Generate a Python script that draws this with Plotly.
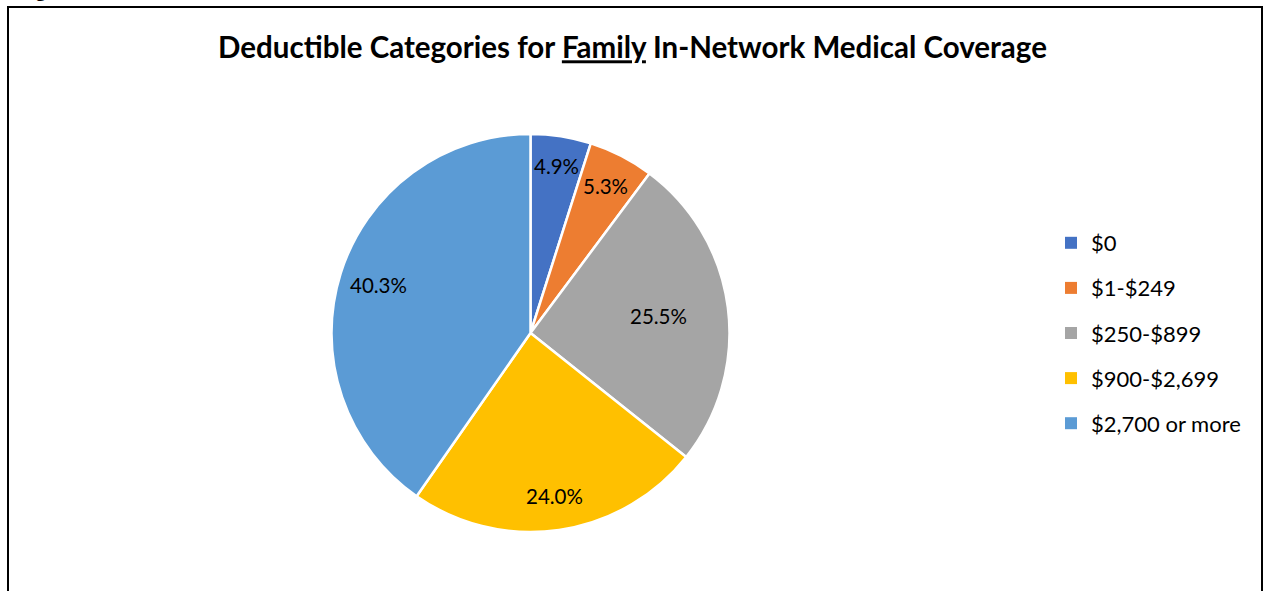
import math
import plotly.graph_objects as go

# ---- data ----
categories = ["$0", "$1-$249", "$250-$899", "$900-$2,699", "$2,700 or more"]
shares = [4.9, 5.3, 25.5, 24.0, 40.3]
title_text = "Deductible Categories for <u>Family</u> In-Network Medical Coverage"

# ---- style ----
colors = ["#4472C4", "#ED7D31", "#A5A5A5", "#FFC000", "#5B9BD5"]
label_radius_frac = [0.85, 0.83, 0.65, 0.83, 0.80]
W, H = 1265, 591
FONT = "Lato"

# pie geometry (pixels)
cx_px, cy_px, r_px = 530.5, 333.0, 199.0
dom_x = [(cx_px - r_px) / W, (cx_px + r_px) / W]
dom_y = [1 - (cy_px + r_px) / H, 1 - (cy_px - r_px) / H]

fig = go.Figure()
fig.add_trace(go.Pie(
    labels=categories, values=shares, sort=False, direction="clockwise",
    rotation=0, textinfo="none", hoverinfo="label+percent",
    marker=dict(colors=colors, line=dict(color="white", width=2.5)),
    domain=dict(x=dom_x, y=dom_y), showlegend=False,
))

# legend entries as dummy traces (to allow spacing between items)
for i, (cat, col) in enumerate(zip(categories, colors)):
    fig.add_trace(go.Scatter(
        x=[None], y=[None], mode="markers", name=cat, legendgroup=str(i),
        marker=dict(symbol="square", size=9, color=col), showlegend=True,
    ))

# data labels positioned from the slice angles
total = sum(shares)
cum = 0.0
cx_p = cx_px / W
cy_p = 1 - cy_px / H
for v, f in zip(shares, label_radius_frac):
    mid = (cum + v / 2) / total * 2 * math.pi
    cum += v
    xp = cx_p + f * r_px * math.sin(mid) / W
    yp = cy_p + f * r_px * math.cos(mid) / H
    fig.add_annotation(x=xp, y=yp, xref="paper", yref="paper",
                       xanchor="center", yanchor="middle",
                       text=f"{v:.1f}%", showarrow=False,
                       font=dict(family=FONT, size=20.5, color="black"))

# clipped figure caption above the box
fig.add_annotation(x=16 / W, y=1, xref="paper", yref="paper", xanchor="left",
                   yanchor="bottom", yshift=-3, text="<b>Figure 3</b>",
                   showarrow=False,
                   font=dict(family="Liberation Serif", size=20, color="black"))

# chart border
fig.add_shape(type="rect", xref="paper", yref="paper",
              x0=8 / W, x1=1262 / W, y0=-0.2, y1=1 - 7 / H,
              line=dict(color="black", width=2), fillcolor="rgba(0,0,0,0)")

fig.update_layout(
    width=W, height=H, margin=dict(l=0, r=0, t=0, b=0),
    paper_bgcolor="white", plot_bgcolor="white",
    title=dict(text="<b>" + title_text + "</b>", x=0.5, xanchor="center",
               y=1 - 48 / H, yanchor="middle",
               font=dict(family=FONT, size=29.5, color="black")),
    xaxis=dict(visible=False), yaxis=dict(visible=False),
    legend=dict(x=1051 / W, xanchor="left", y=1 - 222 / H, yanchor="top",
                font=dict(family=FONT, size=22, color="black"),
                tracegroupgap=13.5, itemsizing="constant",
                bgcolor="rgba(0,0,0,0)"),
    showlegend=True,
)

fig.write_html(
    "out.html",
    config={"displayModeBar": False},
    post_script="document.body.style.margin='0';document.body.style.overflow='hidden';",
)
